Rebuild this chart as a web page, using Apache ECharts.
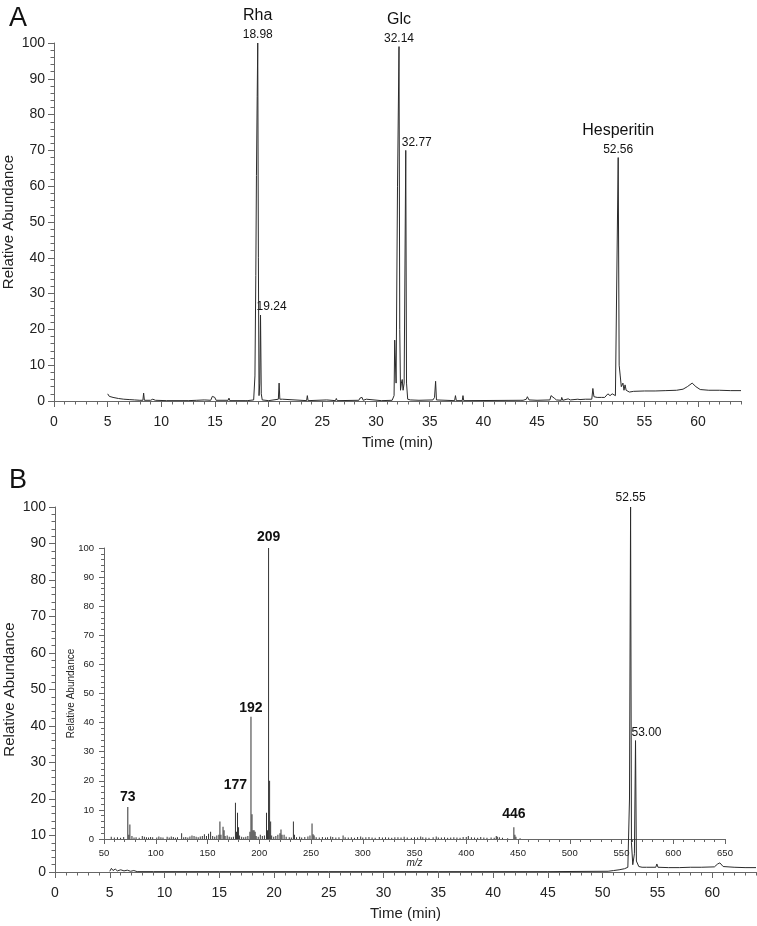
<!DOCTYPE html>
<html><head><meta charset="utf-8">
<script src="https://cdn.jsdelivr.net/npm/echarts@6/dist/echarts.min.js"></script>
<style>html,body{margin:0;padding:0;background:#fff}#c{width:757px;height:926px}</style>
</head><body><div id="c"></div>
<script>
// ---- tick labels ----
const timeTicks = [0,5,10,15,20,25,30,35,40,45,50,55,60];
const abundanceTicks = [0,10,20,30,40,50,60,70,80,90,100];
const mzTicks = [50,100,150,200,250,300,350,400,450,500,550,600,650];

// ---- chromatogram A: [time (min), relative abundance] ----
const chromA = [[5.0,2.0],[5.15,1.3],[5.5,1.0],[6.0,0.7],[6.5,0.5],[7.0,0.4],[7.5,0.3],[8.0,0.2],[8.28,0.2],[8.35,2.2],[8.42,0.2],[9.0,0.2],[9.2,0.5],[9.45,0.2],[10.5,0.1],[12.5,0.1],[13.3,0.2],[14.0,0.3],[14.6,0.2],[14.75,1.3],[14.85,0.8],[14.98,1.0],[15.1,0.2],[16.22,0.2],[16.3,0.8],[16.38,0.1],[17.8,0.1],[17.9,0.6],[18.0,0.1],[18.6,0.3],[18.72,7],[18.8,35],[18.86,63],[18.93,85],[18.98,100],[19.04,40],[19.1,1.5],[19.17,5],[19.24,24],[19.31,2],[19.4,0.3],[20.0,0.1],[20.9,0.5],[20.97,5],[21.04,0.5],[21.3,0.5],[21.45,0.1],[23.53,0.1],[23.6,1.5],[23.67,0.1],[25.4,0.3],[26.22,0.1],[26.3,0.7],[26.38,0.1],[28.4,0.2],[28.5,0.8],[28.6,0.4],[28.7,1.0],[28.8,0.2],[29.1,0.5],[29.2,0.1],[30.5,0.1],[31.5,0.2],[31.68,1.5],[31.74,17],[31.8,17],[31.87,5],[32.0,60],[32.14,99],[32.21,20],[32.28,3],[32.36,5],[32.44,6],[32.52,3],[32.62,5],[32.77,70],[32.84,5],[32.95,0.5],[33.2,0.3],[34.0,0.2],[35.3,0.3],[35.45,1.0],[35.55,5.5],[35.63,0.3],[37.32,0.1],[37.4,1.5],[37.48,0.1],[38.03,0.1],[38.1,1.5],[38.17,0.1],[43.5,0.2],[43.6,0.5],[43.7,0.2],[44.0,0.5],[44.1,1.2],[44.25,0.3],[45.0,0.2],[46.2,0.3],[46.3,1.5],[46.45,1.0],[46.6,0.8],[46.8,0.3],[47.25,0.2],[47.3,1.0],[47.4,0.2],[47.9,0.6],[48.1,0.3],[48.8,0.5],[49.0,0.4],[49.5,0.5],[50.1,0.5],[50.2,3.5],[50.3,1.2],[50.6,1.0],[51.0,1.0],[51.3,1.0],[51.6,2.0],[51.8,1.5],[52.0,2.0],[52.3,1.5],[52.45,2.0],[52.56,68],[52.65,10],[52.75,7],[52.85,4],[53.0,5],[53.1,3],[53.2,4.5],[53.3,3],[53.6,2.5],[54.0,2.7],[55.0,2.8],[56.0,2.8],[57.0,2.9],[58.0,3.0],[58.6,3.3],[59.0,4.0],[59.45,5.0],[59.8,4.0],[60.2,3.2],[61.0,3.0],[62.0,3.0],[63.0,2.9],[64.0,2.9]];
const peakTimeA = [18.98, 19.24, 32.14, 32.77, 52.56];
const peakAbundA = [100, 24, 99, 70, 68];
const peakNameA = ['Rha', '', 'Glc', '', 'Hesperitin'];

// ---- chromatogram B ----
const chromB = [[5.0,0.2],[5.15,1.0],[5.3,0.4],[5.5,0.8],[5.7,0.3],[6.0,0.6],[6.3,0.3],[6.6,0.5],[6.9,0.2],[7.2,0.4],[7.5,0.1],[9.0,0.1],[15.0,0.1],[25.0,0.1],[35.0,0.1],[45.0,0.1],[50.5,0.2],[51.0,0.4],[51.5,0.6],[52.0,0.9],[52.3,1.3],[52.45,20],[52.55,100],[52.63,8],[52.75,2],[52.9,5],[53.0,36],[53.08,3],[53.3,1.5],[53.6,1.3],[54.0,1.3],[54.85,1.3],[54.95,2.2],[55.05,1.3],[56.0,1.2],[57.0,1.2],[58.0,1.3],[59.0,1.3],[60.2,1.4],[60.5,2.2],[60.7,2.5],[61.0,1.5],[62.0,1.3],[63.0,1.2],[64.0,1.2]];
const peakTimeB = [52.55, 53.00];
const peakAbundB = [100, 36];

// ---- inset mass spectrum: [m/z, relative abundance] ----
const spectrum = [[57,0.8],[60,0.5],[63,0.6],[66,0.4],[69,0.7],[73,11],[74,1.5],[75,5],[77,1.0],[79,0.5],[81,0.6],[84,0.4],[87,1.0],[89,0.8],[91,0.6],[93,0.5],[95,0.7],[97,0.6],[101,0.5],[103,0.9],[105,0.6],[107,0.5],[111,0.8],[113,0.5],[115,0.9],[117,0.7],[119,0.4],[121,0.6],[125,2.0],[127,0.6],[129,0.7],[131,0.5],[133,0.9],[135,1.2],[137,1.0],[139,0.8],[141,0.6],[143,0.9],[145,1.0],[147,1.6],[149,1.0],[151,1.8],[153,2.5],[155,1.0],[157,0.8],[159,1.2],[161,1.5],[162,6],[163,1.5],[165,4.2],[166,3],[167,1.0],[169,1.2],[171,0.8],[173,0.6],[175,0.8],[177,12.5],[178,2.5],[179,9],[180,4],[181,1.2],[183,0.8],[185,0.6],[187,0.8],[189,1.0],[191,2.5],[192,42],[193,8.5],[194,3],[195,3],[196,2.5],[197,1.0],[199,0.8],[201,1.5],[203,1.0],[205,1.2],[207,9],[208,3],[209,100],[210,20],[211,6],[212,1.2],[214,0.8],[216,1.0],[218,1.5],[220,2.0],[221,3.3],[222,1.5],[224,1.5],[226,0.8],[229,0.6],[231,0.5],[233,6],[234,1.5],[236,0.6],[239,0.8],[241,0.5],[244,0.7],[247,0.9],[249,1.2],[251,5.3],[252,1.6],[253,1.2],[255,0.6],[258,0.5],[261,0.7],[264,0.5],[266,0.6],[269,0.9],[271,0.7],[274,0.5],[277,0.6],[281,1.2],[283,0.6],[286,0.5],[289,0.6],[292,0.4],[295,0.7],[298,0.9],[300,0.5],[303,0.6],[306,0.7],[309,0.5],[312,0.4],[316,0.7],[319,0.5],[322,0.6],[325,0.5],[328,0.4],[331,0.6],[334,0.6],[337,0.5],[340,0.8],[343,0.5],[347,0.4],[350,0.6],[353,0.5],[356,0.9],[358,0.6],[361,0.5],[364,0.4],[368,0.6],[371,0.9],[373,0.5],[376,0.5],[379,0.6],[382,0.4],[385,0.5],[388,0.6],[391,0.5],[394,0.4],[397,0.7],[400,0.7],[402,1.0],[405,0.6],[408,0.5],[411,0.4],[414,0.7],[417,0.5],[420,0.4],[424,0.5],[427,0.4],[429,1.0],[430,0.8],[432,0.6],[435,0.4],[440,0.3],[446,4],[447,1.5],[448,0.8],[452,0.3]];
const labeledMz = [73, 177, 192, 209, 446];
const labeledMzGap = [3, 10, 2, 4, 6];

const FONT = 'Liberation Sans, Arial, Helvetica, sans-serif';
const TXT = '#222';
const AX = '#666';
const LINE = '#2b2b2b';

function majorX(g, name) {
  return {
    gridIndex: g, type: 'value', position: 'bottom', min: 0, max: 64, interval: 5,
    name: name, nameLocation: 'middle', nameGap: 34, nameMoveOverlap: false,
    nameTextStyle: { fontFamily: FONT, fontSize: 15, color: TXT },
    axisLine: { show: true, lineStyle: { color: AX, width: 1 } },
    axisTick: { show: true, length: 6, customValues: timeTicks, lineStyle: { color: AX } },
    axisLabel: { customValues: timeTicks, fontFamily: FONT, fontSize: 14, color: TXT, margin: 14 },
    splitLine: { show: false }
  };
}
function minorX(g) {
  return {
    gridIndex: g, type: 'value', position: 'bottom', min: 0, max: 64, interval: 1,
    axisLine: { show: false },
    axisTick: { show: true, length: 3.5, lineStyle: { color: AX } },
    axisLabel: { show: false }, splitLine: { show: false }
  };
}
function mainY(g) {
  return {
    gridIndex: g, type: 'value', min: 0, max: 100, interval: 10,
    name: 'Relative Abundance', nameLocation: 'middle', nameGap: 38, nameMoveOverlap: false,
    nameTextStyle: { fontFamily: FONT, fontSize: 15, color: TXT },
    axisLine: { show: true, lineStyle: { color: AX, width: 1 } },
    axisTick: { show: true, length: 6, customValues: abundanceTicks, lineStyle: { color: AX } },
    minorTick: { show: true, splitNumber: 5, length: 3.5, lineStyle: { color: AX } },
    axisLabel: { customValues: abundanceTicks, fontFamily: FONT, fontSize: 14, color: TXT, margin: 9 },
    splitLine: { show: false }, minorSplitLine: { show: false }
  };
}

function peakLabels(times, vals, names) {
  return times.map((t, i) => {
    const num = t.toFixed(2);
    const nm = names ? names[i] : '';
    const item = { value: [t, vals[i]] };
    if (nm) {
      item.label = { show: true, position: 'top', distance: 1, color: TXT, formatter: '{a|' + nm + '}\n{b|' + num + '}' };
    } else {
      item.label = { show: true, position: 'top', distance: 1, align: 'left', offset: [-4, 0], color: TXT, formatter: '{b|' + num + '}' };
    }
    return item;
  });
}
const richLab = {
  a: { fontFamily: FONT, fontSize: 16, color: '#111', lineHeight: 24 },
  b: { fontFamily: FONT, fontSize: 12, color: '#111', lineHeight: 14 }
};

const chart = echarts.init(document.getElementById('c'), null, { renderer: 'canvas' });
chart.setOption({
  animation: false,
  backgroundColor: '#fff',
  title: [
    { text: 'A', left: 4, top: 0, textStyle: { fontFamily: FONT, fontSize: 27, fontWeight: 'normal', color: '#111' } },
    { text: 'B', left: 4, top: 462, textStyle: { fontFamily: FONT, fontSize: 27, fontWeight: 'normal', color: '#111' } }
  ],
  grid: [
    { left: 54, right: 16, top: 43, bottom: 525, containLabel: false, outerBoundsMode: 'none' },
    { left: 55, right: 1, top: 507, bottom: 54, containLabel: false, outerBoundsMode: 'none' },
    { left: 104, right: 32, top: 548, bottom: 87, containLabel: false, outerBoundsMode: 'none' }
  ],
  xAxis: [
    majorX(0, 'Time (min)'), minorX(0),
    majorX(1, 'Time (min)'), minorX(1),
    {
      gridIndex: 2, type: 'value', position: 'bottom', min: 50, max: 650, interval: 50,
      name: 'm/z', nameLocation: 'middle', nameGap: 19, nameMoveOverlap: false,
      nameTextStyle: { fontFamily: FONT, fontSize: 10, fontStyle: 'italic', color: TXT },
      axisLine: { show: true, lineStyle: { color: AX, width: 1 } },
      axisTick: { show: true, length: 5, lineStyle: { color: AX } },
      minorTick: { show: true, splitNumber: 5, length: 3, lineStyle: { color: AX } },
      axisLabel: { customValues: mzTicks, fontFamily: FONT, fontSize: 9.5, color: TXT, margin: 9 },
      splitLine: { show: false }, minorSplitLine: { show: false }
    }
  ],
  yAxis: [
    mainY(0), mainY(1),
    {
      gridIndex: 2, type: 'value', min: 0, max: 100, interval: 10,
      name: 'Relative Abundance', nameLocation: 'middle', nameGap: 28, nameMoveOverlap: false,
      nameTextStyle: { fontFamily: FONT, fontSize: 10, color: TXT },
      axisLine: { show: true, lineStyle: { color: AX, width: 1 } },
      axisTick: { show: true, length: 5, lineStyle: { color: AX } },
      minorTick: { show: true, splitNumber: 5, length: 3, lineStyle: { color: AX } },
      axisLabel: { fontFamily: FONT, fontSize: 9.5, color: TXT, margin: 10 },
      splitLine: { show: false }, minorSplitLine: { show: false }
    }
  ],
  series: [
    { type: 'line', xAxisIndex: 0, yAxisIndex: 0, data: chromA, showSymbol: false, symbol: 'none',
      lineStyle: { color: LINE, width: 1 }, silent: true },
    { type: 'scatter', xAxisIndex: 0, yAxisIndex: 0, data: peakLabels(peakTimeA, peakAbundA, peakNameA),
      symbolSize: 0, itemStyle: { color: '#111', opacity: 1 }, silent: true,
      label: { rich: richLab, color: '#111' } },
    { type: 'line', xAxisIndex: 2, yAxisIndex: 1, data: chromB, showSymbol: false, symbol: 'none',
      lineStyle: { color: LINE, width: 1 }, silent: true },
    { type: 'scatter', xAxisIndex: 2, yAxisIndex: 1, data: peakLabels(peakTimeB, peakAbundB, null).map((d, i) => {
        if (i === 0) d.label = { show: true, position: 'top', distance: 2, color: '#111', formatter: '{b|' + peakTimeB[i].toFixed(2) + '}' };
        return d; }),
      symbolSize: 0, itemStyle: { color: '#111', opacity: 1 }, silent: true,
      label: { rich: richLab, color: '#111' } },
    { type: 'bar', xAxisIndex: 4, yAxisIndex: 2, barWidth: 1, silent: true,
      itemStyle: { color: '#333' },
      data: spectrum.map(p => {
        const item = { value: p };
        const k = labeledMz.indexOf(p[0]);
        if (k >= 0) {
          item.label = { show: true, position: 'top', distance: labeledMzGap[k], formatter: String(p[0]),
            fontFamily: FONT, fontSize: 14, fontWeight: 'bold', color: '#111' };
        }
        return item;
      }) }
  ]
});
</script></body></html>
